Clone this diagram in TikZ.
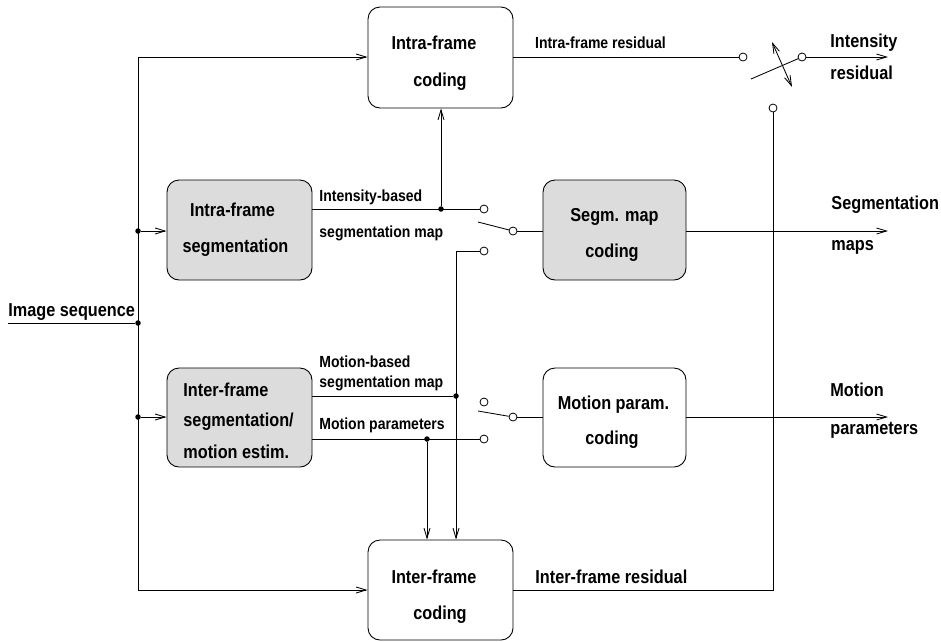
\documentclass[tikz,border=0pt]{standalone}
\usepackage{fontspec}
\setmainfont{Liberation Sans}[FakeStretch=0.87]
\usetikzlibrary{arrows.meta}
\definecolor{boxgray}{HTML}{DCDCDC}
\begin{document}
\begin{tikzpicture}[x=1pt,y=-1pt,line width=0.85pt,
  >={Straight Barb[length=10pt,width=6pt]},
  box/.style={draw,rounded corners=12pt,inner sep=0pt,line width=0.9pt},
  gbox/.style={box,fill=boxgray},
  big/.style={font=\fontsize{18.7}{22}\selectfont\bfseries,inner sep=0pt},
  small/.style={font=\fontsize{16.1}{19}\selectfont\bfseries,inner sep=0pt},
  port/.style={circle,draw,fill=white,minimum size=8pt,inner sep=0pt,line width=0.8pt},
  junc/.style={circle,fill,minimum size=5.5pt,inner sep=0pt}]
\useasboundingbox (0,0) rectangle (941,641);
% boxes
\node[box,minimum width=145pt,minimum height=101pt] (ic) at (440.5,57.5) {};
\node[gbox,minimum width=145pt,minimum height=100pt] (is) at (239.5,230) {};
\node[gbox,minimum width=143pt,minimum height=100pt] (sm) at (614.5,230) {};
\node[gbox,minimum width=145pt,minimum height=99pt] (ms) at (239.5,417.5) {};
\node[box,minimum width=143pt,minimum height=99pt] (mp) at (614.5,417.5) {};
\node[box,minimum width=145pt,minimum height=100pt] (fc) at (440.5,590) {};
% box texts
\node[big] (t1) at (434,43) {Intra-frame};
\node[big] (t2) at (440,82) {coding};
\node[big] (t3) at (232.5,210) {Intra-frame};
\node[big] (t4) at (235.5,248) {segmentation};
\node[big] (t5) at (614.5,217) {Segm. map};
\node[big] (t6) at (612,253) {coding};
\node[big,anchor=west] (t7) at (183,390) {Inter-frame};
\node[big,anchor=west] (t8) at (183,422) {segmentation/};
\node[big,anchor=west] (t9) at (183,452) {motion estim.};
\node[big] (t10) at (613.5,405) {Motion param.};
\node[big] (t11) at (612,440) {coding};
\node[big] (t12) at (434,577) {Inter-frame};
\node[big] (t13) at (440,615) {coding};
% outside labels
\node[big,anchor=west] (l1) at (535,577) {Inter-frame residual};
\node[small] (l2) at (600.5,43) {Intra-frame residual};
\node[big,anchor=west] (l3) at (8,312) {Image sequence};
\node[big,anchor=west] (l4) at (830,43) {Intensity};
\node[big,anchor=west] (l5) at (830,73) {residual};
\node[big,anchor=west] (l6) at (831,205) {Segmentation};
\node[big,anchor=west] (l7) at (831,247) {maps};
\node[big,anchor=west] (l8) at (830,390) {Motion};
\node[big,anchor=west] (l9) at (830,430) {parameters};
\node[small,anchor=west] (s1) at (319,197) {Intensity-based};
\node[small,anchor=west] (s2) at (319,233) {segmentation map};
\node[small,anchor=west] (s3) at (319,362) {Motion-based};
\node[small,anchor=west] (s4) at (319,383) {segmentation map};
\node[small,anchor=west] (s5) at (319,425) {Motion parameters};
% coordinates, junctions, ports
\coordinate (in0) at (8,323);
\coordinate (lt) at (138,57);
\coordinate (lb) at (138,590);
\node[junc] (d0) at (138,323) {};
\node[junc] (d1) at (138,231) {};
\node[junc] (d2) at (138,417) {};
\node[junc] (j1) at (441,209) {};
\node[junc] (j3) at (456,396) {};
\node[junc] (j4) at (427,439) {};
\node[port] (c1) at (743,57) {};
\node[port] (c2) at (802,57) {};
\node[port] (c3) at (773,108) {};
\node[port] (c4) at (484,209) {};
\node[port] (c5) at (513,231) {};
\node[port] (c6) at (484,251) {};
\node[port] (c8) at (484,402) {};
\node[port] (c9) at (513,417) {};
\node[port] (c7) at (484,439) {};
\coordinate (lv1) at (751,79);
\coordinate (lv2) at (478,222);
\coordinate (lv3) at (478,411);
\coordinate (da1) at (772,42);
\coordinate (da2) at (792,87);
\coordinate (o1) at (888,57);
\coordinate (o2) at (888,231);
\coordinate (o3) at (888,417);
% input distribution
\draw (in0) -- (d0);
\draw (lt) -- (lb);
\draw[->] (lt) -- (lt -| ic.west);
\draw[->] (d1) -- (d1 -| is.west);
\draw[->] (d2) -- (d2 -| ms.west);
\draw[->] (lb) -- (fc.west);
% intra-frame residual switch
\draw (ic.east |- c1) -- (c1);
\draw[->] (c2) -- (o1);
\draw (lv1) -- (c2);
\draw[<->] (da1) -- (da2);
\draw (fc.east) -| (c3);
% segmentation switch
\draw (is.east |- j1) -- (c4);
\draw[->] (j1) -- (j1 |- ic.south);
\draw (lv2) -- (c5);
\draw (c5) -- (c5 -| sm.west);
\draw[->] (c6) -| (j3 |- fc.north);
\draw (ms.east |- j3) -- (j3);
\draw[->] (sm.east |- o2) -- (o2);
% motion switch
\draw (ms.east |- c7) -- (c7);
\draw[->] (j4) -- (j4 |- fc.north);
\draw (lv3) -- (c9);
\draw (c9) -- (c9 -| mp.west);
\draw[->] (mp.east |- o3) -- (o3);
\end{tikzpicture}
\end{document}
